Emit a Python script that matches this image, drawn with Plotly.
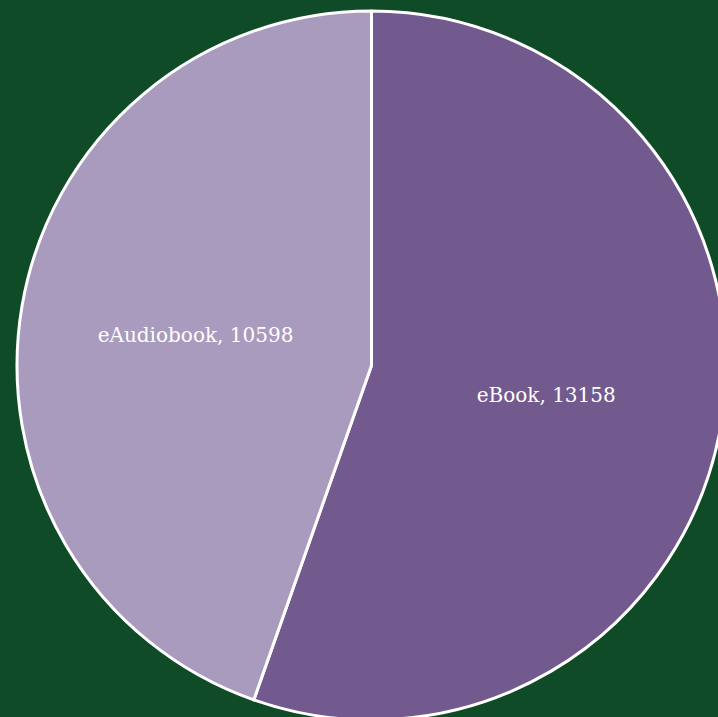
import plotly.graph_objects as go

labels = ["eBook", "eAudiobook"]
values = [13158, 10598]
colors = ["#725a8f", "#a99bbd"]
background = "#0f4b26"

fig = go.Figure(go.Pie(
    labels=labels,
    values=values,
    sort=False,
    direction="clockwise",
    rotation=0,
    marker=dict(colors=colors, line=dict(color="white", width=3)),
    texttemplate="%{label}, %{value:.0f}",
    textposition="inside",
    insidetextorientation="horizontal",
    textfont=dict(family="DejaVu Serif, serif", size=20, color="white"),
    showlegend=False,
    hoverinfo="label+value",
))

fig.update_layout(
    width=726,
    height=720,
    margin=dict(l=17, r=0, t=11, b=0),
    paper_bgcolor=background,
    plot_bgcolor=background,
)

fig.write_html(
    "out.html",
    config={"displayModeBar": False},
    post_script=(
        "document.body.style.margin='0';"
        "document.body.style.overflow='hidden';"
        "document.body.style.background='" + background + "';"
        "document.documentElement.style.background='" + background + "';"
    ),
)
